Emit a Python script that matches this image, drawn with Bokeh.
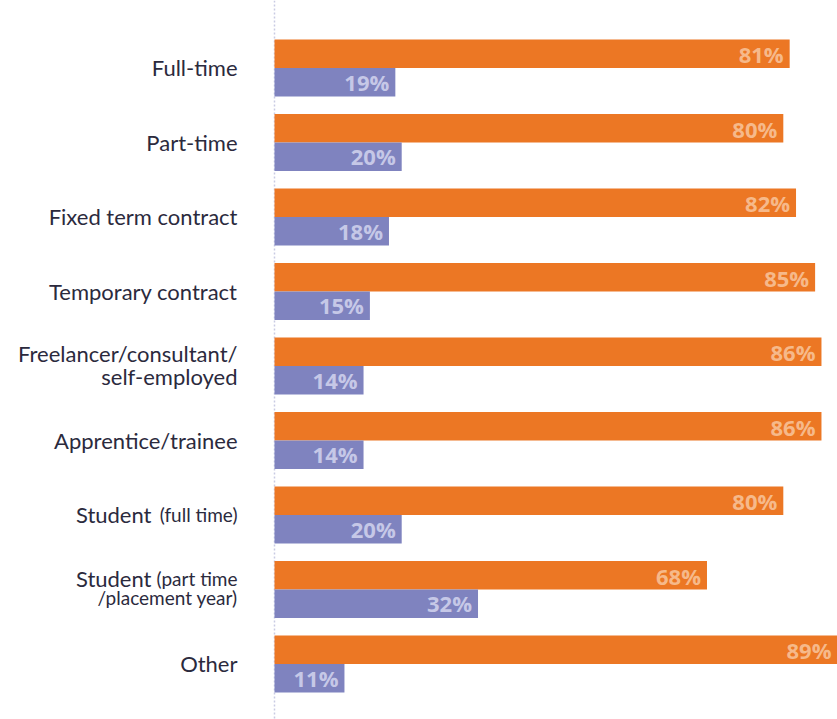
import numpy as np
from bokeh.plotting import figure
from bokeh.models import Range1d, Span, ColumnDataSource
from bokeh.core.properties import value
from bokeh.embed import file_html
from bokeh.resources import INLINE

# ---- data ----
cat_main = ["Full-time", "Part-time", "Fixed term contract", "Temporary contract",
            "Freelancer/consultant/", "Apprentice/trainee", "Student", "Student", "Other"]
cat_main2 = ["", "", "", "", "self-employed", "", "", "", ""]
cat_sub = ["", "", "", "", "", "", "(full time)", "(part time", ""]
cat_sub2 = ["", "", "", "", "", "", "", "/placement year)", ""]
orange_vals = [81, 80, 82, 85, 86, 86, 80, 68, 89]
purple_vals = [19, 20, 18, 15, 14, 14, 20, 32, 11]

ORANGE = "#EC7724"
PURPLE = "#7F83BF"
ORANGE_TXT = "#F6B98A"
PURPLE_TXT = "#C6C8E7"
DARK = "#2B2A3D"

W, H = 837, 719
x_start, x_end = -43.08, 88.52
y_top, y_bottom = -0.906, 8.745
ppu = H / (y_bottom - y_top)  # pixels per category unit
bar_h = 28.5 / ppu
SHIFT = -8.5  # baseline correction (px)

n = len(cat_main)
idx = np.arange(n, dtype=float)

p = figure(width=W, height=H, output_backend="svg", toolbar_location=None,
           x_range=Range1d(x_start, x_end), y_range=Range1d(y_bottom, y_top),
           min_border=0, min_border_left=0, min_border_right=0,
           min_border_top=0, min_border_bottom=0)
p.axis.visible = False
p.grid.visible = False
p.outline_line_color = None
p.background_fill_color = "white"
p.border_fill_color = "white"

p.add_layout(Span(location=0, dimension="height", line_color="#C9CBE3",
                  line_dash="2 2", line_width=1.5, level="underlay"))

src = ColumnDataSource(dict(
    y_o=idx - bar_h / 2, y_p=idx + bar_h / 2,
    o=orange_vals, pv=purple_vals,
    o_lab=[f"{v}%" for v in orange_vals], p_lab=[f"{v}%" for v in purple_vals],
    o_x=np.minimum(orange_vals, x_end), p_x=np.minimum(purple_vals, x_end),
    o_ty=idx - bar_h / 2 + (9.0 + SHIFT) / ppu, p_ty=idx + bar_h / 2 + (8.0 + SHIFT) / ppu,
))

p.hbar(y="y_o", left=0, right="o", height=bar_h, color=ORANGE, line_color=None, source=src)
p.hbar(y="y_p", left=0, right="pv", height=bar_h, color=PURPLE, line_color=None, source=src)

val_font = value("Open Sans")
p.text(x="o_x", y="o_ty", text="o_lab", x_offset=-6, text_align="right",
       text_baseline="alphabetic", text_font=val_font, text_font_style="bold",
       text_font_size="22px", text_color=ORANGE_TXT, source=src)
p.text(x="p_x", y="p_ty", text="p_lab", x_offset=-6, text_align="right",
       text_baseline="alphabetic", text_font=val_font, text_font_style="bold",
       text_font_size="22px", text_color=PURPLE_TXT, source=src)

# ---- category labels ----
lab_font = value("Lato")
main_x, main_y, main_t, main_off = [], [], [], []
sub_x, sub_y, sub_t = [], [], []
for i in range(n):
    two = bool(cat_main2[i] or cat_sub2[i])
    if two:
        if cat_main2[i]:
            b1, b2 = -3.5, 19.5
        else:
            b1, b2 = -2.5, 17.0
    else:
        b1, b2 = 8.5, 0
    y1 = i + (b1 + SHIFT) / ppu
    y2 = i + (b2 + SHIFT) / ppu
    if cat_main[i]:
        main_x.append(0); main_y.append(y1); main_t.append(cat_main[i])
        main_off.append(-123 if cat_sub[i] else -37)
    if cat_sub[i]:
        sub_x.append(0); sub_y.append(y1); sub_t.append(cat_sub[i])
    if cat_main2[i]:
        main_x.append(0); main_y.append(y2); main_t.append(cat_main2[i]); main_off.append(-37)
    if cat_sub2[i]:
        sub_x.append(0); sub_y.append(y2); sub_t.append(cat_sub2[i])

msrc = ColumnDataSource(dict(x=main_x, y=main_y, t=main_t, off=main_off))
ssrc = ColumnDataSource(dict(x=sub_x, y=sub_y, t=sub_t))
p.text(x="x", y="y", text="t", x_offset="off", text_align="right",
       text_baseline="alphabetic", text_font=lab_font, text_font_size="22px",
       text_color=DARK, source=msrc)
p.text(x="x", y="y", text="t", x_offset=-37, text_align="right",
       text_baseline="alphabetic", text_font=lab_font, text_font_size="19px",
       text_color=DARK, source=ssrc)

open("out.html", "w").write(file_html(p, INLINE))
